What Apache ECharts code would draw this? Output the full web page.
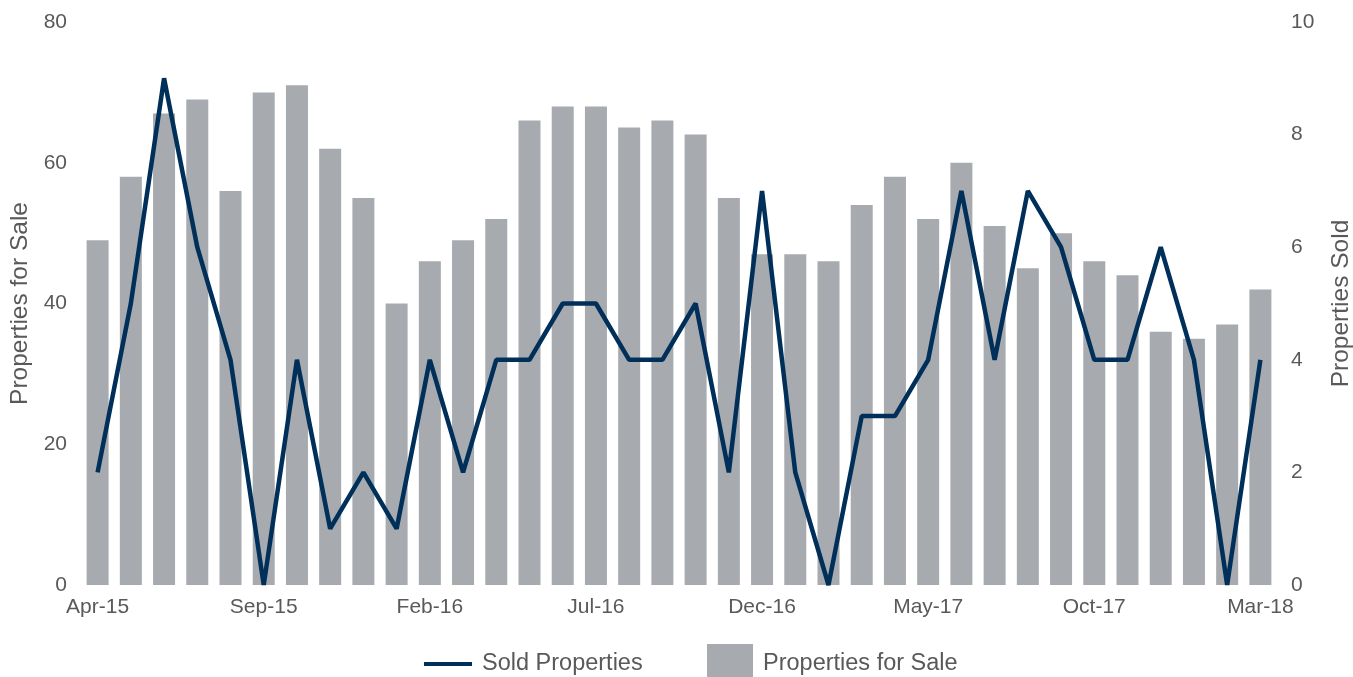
<!DOCTYPE html>
<html>
<head>
<meta charset="utf-8">
<script src="https://cdn.jsdelivr.net/npm/echarts@6/dist/echarts.min.js"></script>
<style>
html,body{margin:0;padding:0;background:#fff;}
#chart{width:1353px;height:677px;}
</style>
</head>
<body>
<div id="chart"></div>
<script>
const categories = ['Apr-15','May-15','Jun-15','Jul-15','Aug-15','Sep-15','Oct-15','Nov-15','Dec-15','Jan-16','Feb-16','Mar-16','Apr-16','May-16','Jun-16','Jul-16','Aug-16','Sep-16','Oct-16','Nov-16','Dec-16','Jan-17','Feb-17','Mar-17','Apr-17','May-17','Jun-17','Jul-17','Aug-17','Sep-17','Oct-17','Nov-17','Dec-17','Jan-18','Feb-18','Mar-18'];
const forSale = [49,58,67,69,56,70,71,62,55,40,46,49,52,66,68,68,65,66,64,55,47,47,46,54,58,52,60,51,45,50,46,44,36,35,37,42];
const sold = [2,5,9,6,4,0,4,1,2,1,4,2,4,4,5,5,4,4,5,2,7,2,0,3,3,4,7,4,7,6,4,4,6,4,0,4];
const leftTicks = [0,20,40,60,80];
const rightTicks = [0,2,4,6,8,10];

const textColor = '#595959';
const font = 'Liberation Sans';
const chart = echarts.init(document.getElementById('chart'));
chart.setOption({
  animation: false,
  textStyle: {fontFamily: font},
  grid: {left: 81, right: 76, top: 22, bottom: 92, containLabel: false, outerBoundsMode: 'none'},
  legend: [
    {data: [{name: 'Sold Properties', icon: 'rect'}], left: 424, top: 652, padding: 0, itemWidth: 48, itemHeight: 4,
     textStyle: {fontSize: 23.5, color: textColor, fontFamily: font, padding: [0,0,0,5]}},
    {data: [{name: 'Properties for Sale', icon: 'rect'}], left: 707, top: 644, padding: 0, itemWidth: 46, itemHeight: 40,
     textStyle: {fontSize: 23.5, color: textColor, fontFamily: font, padding: [0,0,0,5]}}
  ],
  xAxis: {
    type: 'category', data: categories,
    axisLine: {show: false}, axisTick: {show: false},
    axisLabel: {interval: 4, color: textColor, fontSize: 21, margin: 12, fontFamily: font}
  },
  yAxis: [
    {type: 'value', min: 0, max: 80, interval: 20, name: 'Properties for Sale',
     nameLocation: 'middle', nameGap: 48,
     nameTextStyle: {fontSize: 24.5, color: textColor, fontFamily: font},
     splitLine: {show: false}, axisLine: {show: false}, axisTick: {show: false},
     axisLabel: {color: textColor, fontSize: 21, margin: 14, fontFamily: font}},
    {type: 'value', min: 0, max: 10, interval: 2, name: 'Properties Sold',
     nameLocation: 'middle', nameGap: 52,
     nameTextStyle: {fontSize: 24.5, color: textColor, fontFamily: font},
     splitLine: {show: false}, axisLine: {show: false}, axisTick: {show: false},
     axisLabel: {color: textColor, fontSize: 21, margin: 14, fontFamily: font}}
  ],
  series: [
    {name: 'Properties for Sale', type: 'bar', yAxisIndex: 0, data: forSale, barWidth: 22,
     itemStyle: {color: '#A7AAAE'}},
    {name: 'Sold Properties', type: 'line', yAxisIndex: 1, data: sold, showSymbol: false, symbol: 'none',
     lineStyle: {color: '#00305A', width: 4.5}, itemStyle: {color: '#00305A'}, z: 5}
  ]
});
</script>
</body>
</html>
